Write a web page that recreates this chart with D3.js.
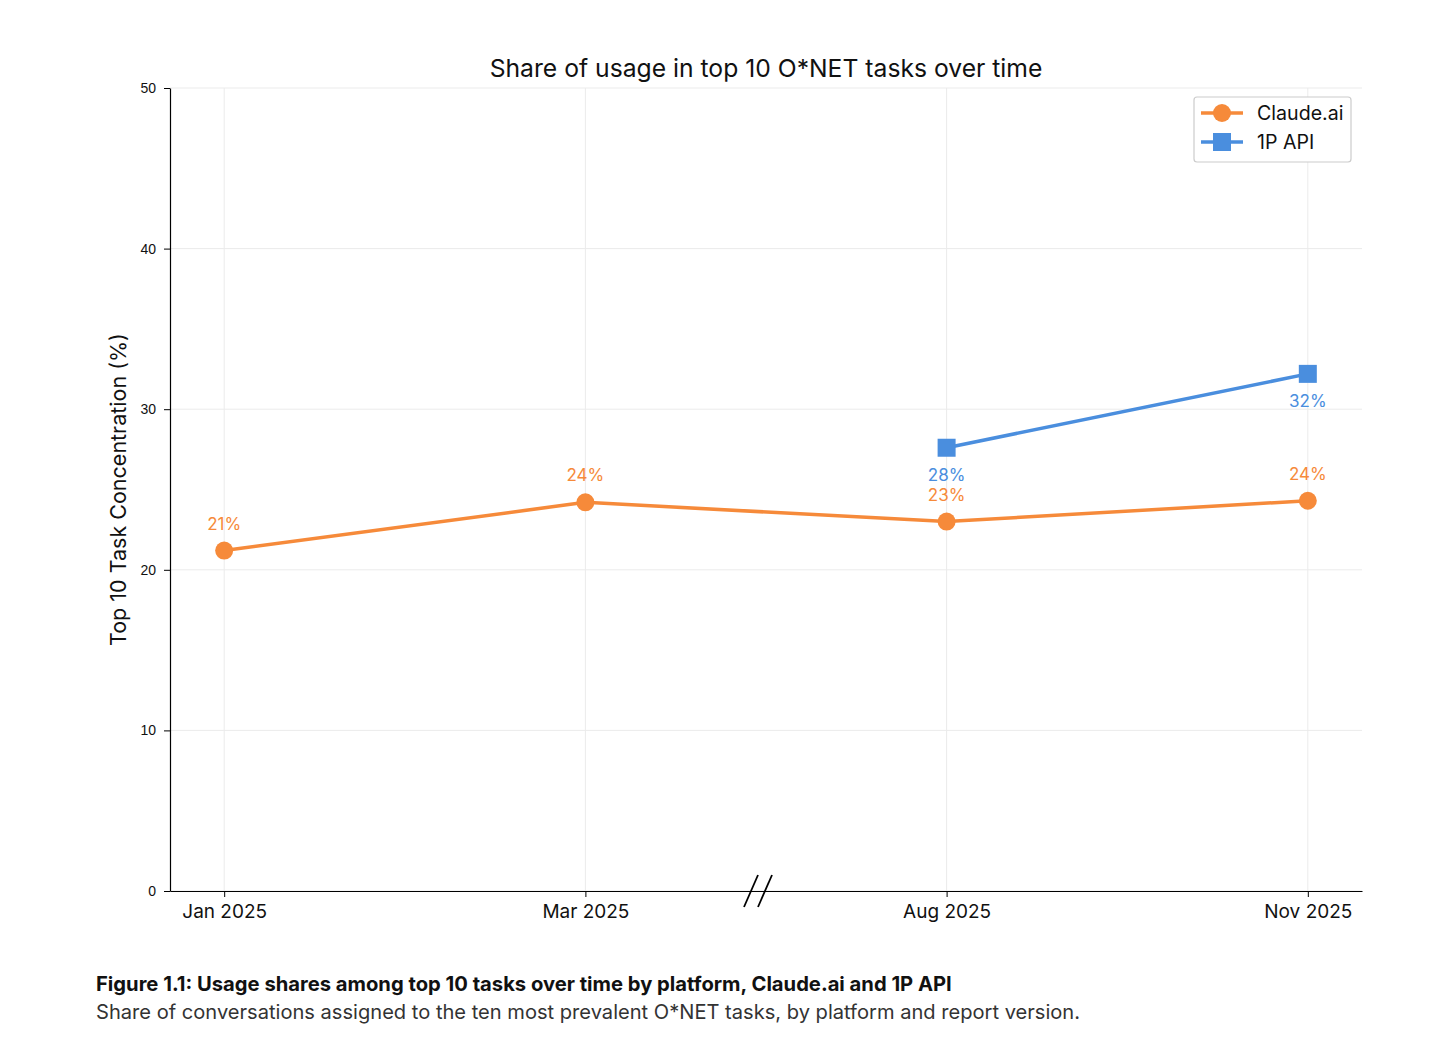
<!DOCTYPE html>
<html><head><meta charset="utf-8">
<script src="https://cdn.jsdelivr.net/npm/d3@7"></script>
<style>body{margin:0;background:#fff;} svg{display:block;}</style>
</head><body>
<svg id="c" width="1456" height="1042"></svg>
<script>
const categories = ["Jan 2025", "Mar 2025", "Aug 2025", "Nov 2025"];
const claudeValues = [21.2, 24.2, 23.0, 24.3];
const claudeLabels = ["21%", "24%", "23%", "24%"];
const apiCategories = ["Aug 2025", "Nov 2025"];
const apiValues = [27.6, 32.2];
const apiLabels = ["28%", "32%"];
const yTicks = [0, 10, 20, 30, 40, 50];

const orange = "#F68A3A", blue = "#4A8EDE";
const font = "Inter, 'Noto Sans', sans-serif";
const svg = d3.select("#c");
const L = 170, R = 1362, T = 88, B = 891;
const x = d3.scalePoint().domain(categories).range([L, R]).padding(0.15);
const y = d3.scaleLinear().domain([0, 50]).range([B, T]);

// grid
svg.append("g").selectAll("line").data(yTicks).join("line")
  .attr("x1", L).attr("x2", R).attr("y1", d => y(d)).attr("y2", d => y(d))
  .attr("stroke", "#ebebeb").attr("stroke-width", 1);
svg.append("g").selectAll("line").data(categories).join("line")
  .attr("x1", d => x(d)).attr("x2", d => x(d)).attr("y1", T).attr("y2", B)
  .attr("stroke", "#ebebeb").attr("stroke-width", 1);

// axes
const yAxis = svg.append("g").attr("transform", `translate(${L},0)`)
  .call(d3.axisLeft(y).tickValues(yTicks).tickSizeInner(6).tickSizeOuter(0).tickPadding(8));
yAxis.select(".domain").attr("stroke", "#000").attr("stroke-width", 1.2);
yAxis.selectAll("text").attr("font-family", "'Liberation Sans', Arial, sans-serif").attr("font-size", 14).attr("fill", "#111");
const xAxis = svg.append("g").attr("transform", `translate(0,${B})`)
  .call(d3.axisBottom(x).tickSizeInner(6).tickSizeOuter(0).tickPadding(8));
xAxis.select(".domain").attr("stroke", "#000").attr("stroke-width", 1.2);
xAxis.selectAll("text").attr("font-family", font).attr("font-size", 19).attr("fill", "#111");

// axis break marks
const bx = (x(categories[1]) + x(categories[2])) / 2 - 8;
[ -7, 7 ].forEach(o => {
  svg.append("line").attr("x1", bx + o - 7).attr("y1", B + 16).attr("x2", bx + o + 7).attr("y2", B - 16)
    .attr("stroke", "#000").attr("stroke-width", 1.8);
});

// lines
const line = d3.line().x(d => x(d[0])).y(d => y(d[1]));
const cData = categories.map((c, i) => [c, claudeValues[i]]);
const aData = apiCategories.map((c, i) => [c, apiValues[i]]);
svg.append("path").attr("d", line(cData)).attr("fill", "none").attr("stroke", orange).attr("stroke-width", 3.5);
svg.append("path").attr("d", line(aData)).attr("fill", "none").attr("stroke", blue).attr("stroke-width", 3.5);
svg.selectAll(".cpt").data(cData).join("circle").attr("cx", d => x(d[0])).attr("cy", d => y(d[1])).attr("r", 9).attr("fill", orange);
svg.selectAll(".apt").data(aData).join("rect").attr("x", d => x(d[0]) - 9).attr("y", d => y(d[1]) - 9).attr("width", 18).attr("height", 18).attr("fill", blue);

// data labels
svg.selectAll(".cl").data(cData).join("text").attr("x", d => x(d[0])).attr("y", d => y(d[1]) - 21)
  .attr("text-anchor", "middle").attr("font-family", font).attr("font-size", 17).attr("fill", orange).text((d, i) => claudeLabels[i]);
svg.selectAll(".al").data(aData).join("text").attr("x", d => x(d[0])).attr("y", d => y(d[1]) + 33)
  .attr("text-anchor", "middle").attr("font-family", font).attr("font-size", 17).attr("fill", blue).text((d, i) => apiLabels[i]);

// title
svg.append("text").attr("x", (L + R) / 2).attr("y", 77).attr("text-anchor", "middle")
  .attr("font-family", font).attr("font-size", 24.7).attr("fill", "#111").text("Share of usage in top 10 O*NET tasks over time");
// y label
svg.append("text").attr("transform", `translate(126,${(T + B) / 2}) rotate(-90)`).attr("text-anchor", "middle")
  .attr("font-family", font).attr("font-size", 21.5).attr("fill", "#111").text("Top 10 Task Concentration (%)");

// legend
const lg = svg.append("g");
lg.append("rect").attr("x", 1194).attr("y", 97).attr("width", 157).attr("height", 65).attr("rx", 3)
  .attr("fill", "#fff").attr("stroke", "#cccccc").attr("stroke-width", 1.2);
[["Claude.ai", orange, "circle"], ["1P API", blue, "square"]].forEach((it, i) => {
  const yy = 113 + i * 29;
  lg.append("line").attr("x1", 1201).attr("x2", 1243).attr("y1", yy).attr("y2", yy).attr("stroke", it[1]).attr("stroke-width", 3.5);
  if (it[2] === "circle") lg.append("circle").attr("cx", 1222).attr("cy", yy).attr("r", 9).attr("fill", it[1]);
  else lg.append("rect").attr("x", 1213).attr("y", yy - 9).attr("width", 18).attr("height", 18).attr("fill", it[1]);
  lg.append("text").attr("x", 1257).attr("y", yy + 7).attr("font-family", font).attr("font-size", 19.6).attr("fill", "#111").text(it[0]);
});

// caption
svg.append("text").attr("x", 96).attr("y", 991).attr("font-family", font).attr("font-size", 20.2).attr("font-weight", 700).attr("fill", "#111")
  .text("Figure 1.1: Usage shares among top 10 tasks over time by platform, Claude.ai and 1P API");
svg.append("text").attr("x", 96).attr("y", 1019).attr("font-family", font).attr("font-size", 20.1).attr("fill", "#333")
  .text("Share of conversations assigned to the ten most prevalent O*NET tasks, by platform and report version.");
</script>
</body></html>
